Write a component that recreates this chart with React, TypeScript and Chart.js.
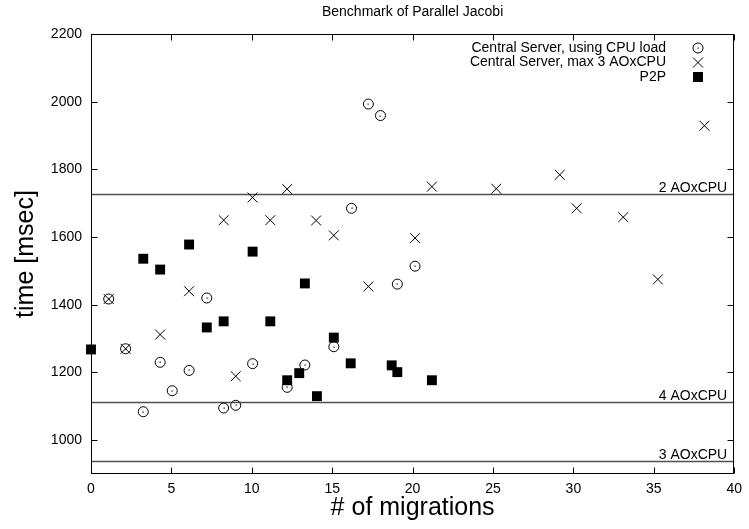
import React, { useEffect, useRef } from 'react';
import { Chart, registerables } from 'chart.js';

Chart.register(...registerables);

const FONT = '"Liberation Sans", Arial, Helvetica, sans-serif';

const chartTitle = 'Benchmark of Parallel Jacobi';
const xAxisTitle = '# of migrations';
const yAxisTitle = 'time [msec]';

const xTicks = [0, 5, 10, 15, 20, 25, 30, 35, 40];
const yTicks = [1000, 1200, 1400, 1600, 1800, 2000, 2200];

const seriesNames = [
  'Central Server, using CPU load',
  'Central Server, max 3 AOxCPU',
  'P2P',
];

const cpuX = [1.1, 2.15, 3.25, 4.3, 5.05, 6.1, 7.2, 8.25, 9.0, 10.05, 12.2, 13.3, 15.1, 16.2, 17.25, 18.0, 19.05, 20.15];
const cpuY = [1417, 1270, 1084, 1230, 1146, 1206, 1420, 1095, 1103, 1226, 1156, 1222, 1276, 1685, 1993, 1959, 1461, 1514];

const maxX = [1.1, 2.15, 4.3, 6.1, 8.25, 9.0, 10.05, 11.15, 12.2, 14.0, 15.1, 17.25, 20.15, 21.2, 25.2, 29.15, 30.2, 33.1, 35.25, 38.15];
const maxY = [1417, 1270, 1312, 1440, 1650, 1189, 1717, 1650, 1742, 1649, 1605, 1454, 1597, 1749, 1743, 1784, 1685, 1659, 1475, 1929];

const p2pX = [0, 3.25, 4.3, 6.1, 7.2, 8.25, 10.05, 11.15, 12.2, 12.95, 13.3, 14.05, 15.1, 16.15, 18.7, 19.05, 21.2];
const p2pY = [1268, 1536, 1504, 1578, 1333, 1351, 1557, 1351, 1177, 1198, 1463, 1130, 1303, 1227, 1221, 1201, 1177];

const refLineValues = [1727, 1114, 938];
const refLineLabels = ['2 AOxCPU', '4 AOxCPU', '3 AOxCPU'];

const xMin = 0;
const xMax = 40;
const yMin = 900;
const yMax = 2200;

function drawX(ctx: CanvasRenderingContext2D, x: number, y: number, h: number) {
  ctx.beginPath();
  ctx.moveTo(x - h, y - h);
  ctx.lineTo(x + h, y + h);
  ctx.moveTo(x - h, y + h);
  ctx.lineTo(x + h, y - h);
  ctx.stroke();
}

const pts = (xs: number[], ys: number[]) => xs.map((v, i) => ({ x: v, y: ys[i] }));

export default function App() {
  const ref = useRef<HTMLCanvasElement>(null);

  useEffect(() => {
    document.body.style.margin = '0';

    const decor = {
      id: 'decor',
      beforeDatasetsDraw(chart: any) {
        const { ctx, chartArea: a, scales } = chart;
        const ys = scales.y;
        const xs = scales.x;
        ctx.save();
        // reference lines
        ctx.strokeStyle = '#505050';
        ctx.lineWidth = 1.3;
        ctx.fillStyle = '#000';
        ctx.font = `14px ${FONT}`;
        ctx.textAlign = 'right';
        ctx.textBaseline = 'alphabetic';
        refLineValues.forEach((v, i) => {
          const py = Math.round(ys.getPixelForValue(v)) + 0.5;
          ctx.beginPath();
          ctx.moveTo(a.left, py);
          ctx.lineTo(a.right, py);
          ctx.stroke();
          ctx.fillText(refLineLabels[i], a.right - 7, py - 3);
        });
        // frame
        ctx.strokeStyle = '#000';
        ctx.lineWidth = 1;
        const l = Math.round(a.left) + 0.5;
        const r = Math.round(a.right) - 0.5;
        const t = Math.round(a.top) + 0.5;
        const b = Math.round(a.bottom) - 0.5;
        ctx.strokeRect(l, t, r - l, b - t);
        // inward ticks
        const tl = 6;
        ctx.beginPath();
        xTicks.forEach((v) => {
          const px = Math.round(xs.getPixelForValue(v)) + 0.5;
          ctx.moveTo(px, b);
          ctx.lineTo(px, b - tl);
          ctx.moveTo(px, t);
          ctx.lineTo(px, t + tl);
        });
        yTicks.forEach((v) => {
          const py = Math.round(ys.getPixelForValue(v)) + 0.5;
          ctx.moveTo(l, py);
          ctx.lineTo(l + tl, py);
          ctx.moveTo(r, py);
          ctx.lineTo(r - tl, py);
        });
        ctx.stroke();
        ctx.restore();
      },
      afterDatasetsDraw(chart: any) {
        // centre dots of the circle markers
        const { ctx } = chart;
        const meta = chart.getDatasetMeta(0);
        ctx.save();
        ctx.fillStyle = '#000';
        meta.data.forEach((el: any) => {
          ctx.fillRect(Math.round(el.x) - 0.5, Math.round(el.y) - 0.5, 1.2, 1.2);
        });
        ctx.restore();
      },
      afterDraw(chart: any) {
        const { ctx, chartArea: a } = chart;
        ctx.save();
        ctx.fillStyle = '#000';
        // chart title
        ctx.font = `14px ${FONT}`;
        ctx.textAlign = 'center';
        ctx.textBaseline = 'middle';
        ctx.fillText(chartTitle, (a.left + a.right) / 2, 12);
        // x axis title
        ctx.font = `25px ${FONT}`;
        ctx.fillText(xAxisTitle, (a.left + a.right) / 2, 508);
        // y axis title
        ctx.save();
        ctx.translate(26, (a.top + a.bottom) / 2);
        ctx.rotate(-Math.PI / 2);
        ctx.fillText(yAxisTitle, 0, 0);
        ctx.restore();
        // legend
        const textRight = 666;
        const markX = 698;
        const rowsY = [48, 62.5, 77];
        ctx.font = `14px ${FONT}`;
        ctx.textAlign = 'right';
        ctx.textBaseline = 'middle';
        ctx.strokeStyle = '#000';
        ctx.lineWidth = 1;
        seriesNames.forEach((name, i) => {
          const yy = rowsY[i];
          ctx.fillText(name, textRight, yy);
          if (i === 0) {
            ctx.beginPath();
            ctx.arc(markX, yy, 5, 0, Math.PI * 2);
            ctx.stroke();
            ctx.fillRect(markX - 0.5, yy - 0.5, 1.2, 1.2);
          } else if (i === 1) {
            drawX(ctx, markX, yy, 5);
          } else {
            ctx.fillRect(markX - 5, yy - 5, 10, 10);
          }
        });
        ctx.restore();
      },
    };

    const chart = new Chart(ref.current!, {
      type: 'scatter',
      data: {
        datasets: [
          {
            label: seriesNames[0],
            data: pts(cpuX, cpuY),
            pointStyle: 'circle',
            pointRadius: 5,
            borderWidth: 1,
            borderColor: '#000',
            backgroundColor: 'rgba(0,0,0,0)',
            clip: false as any,
          },
          {
            label: seriesNames[1],
            data: pts(maxX, maxY),
            pointStyle: 'crossRot',
            pointRadius: 7,
            borderWidth: 1,
            borderColor: '#000',
            backgroundColor: '#000',
            clip: false as any,
          },
          {
            label: seriesNames[2],
            data: pts(p2pX, p2pY),
            pointStyle: 'rect',
            pointRadius: 7,
            borderWidth: 0,
            borderColor: '#000',
            backgroundColor: '#000',
            clip: false as any,
          },
        ],
      },
      options: {
        animation: false,
        responsive: false,
        events: [],
        layout: { padding: { top: 34, right: 10, left: 0, bottom: 0 } },
        plugins: {
          legend: { display: false },
          title: { display: false },
          tooltip: { enabled: false },
        },
        scales: {
          x: {
            type: 'linear',
            min: xMin,
            max: xMax,
            afterBuildTicks: (s: any) => {
              s.ticks = xTicks.map((v) => ({ value: v }));
            },
            afterFit: (s: any) => {
              s.height = 55;
            },
            grid: { display: false, drawTicks: false },
            border: { display: false },
            ticks: {
              color: '#000',
              font: { family: FONT, size: 14 },
              padding: 7,
              maxRotation: 0,
              autoSkip: false,
              callback: (v: any) => String(v),
            },
          },
          y: {
            type: 'linear',
            min: yMin,
            max: yMax,
            afterBuildTicks: (s: any) => {
              s.ticks = yTicks.map((v) => ({ value: v }));
            },
            afterFit: (s: any) => {
              s.width = 91;
            },
            grid: { display: false, drawTicks: false },
            border: { display: false },
            ticks: {
              color: '#000',
              font: { family: FONT, size: 14 },
              padding: 9,
              autoSkip: false,
              callback: (v: any) => String(v),
            },
          },
        },
      },
      plugins: [decor],
    });
    return () => chart.destroy();
  }, []);

  return (
    <div style={{ width: 749, height: 529 }}>
      <canvas ref={ref} width={749} height={529} style={{ display: 'block' }} />
    </div>
  );
}
